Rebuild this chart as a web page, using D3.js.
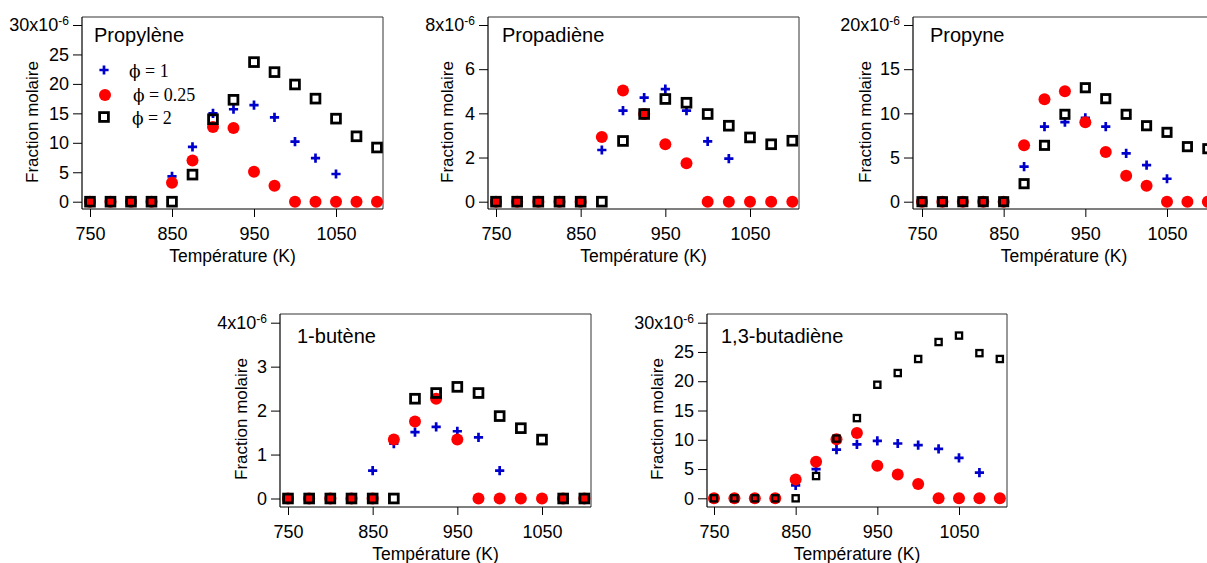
<!DOCTYPE html>
<html>
<head>
<meta charset="utf-8">
<script src="https://cdn.jsdelivr.net/npm/d3@7"></script>
<style>
  html, body { margin: 0; padding: 0; background: #fff; overflow: hidden; }
  svg { display: block; }
</style>
</head>
<body>
<svg id="chart" width="1207" height="563"></svg>
<script>
// ---------------- DATA ----------------
const temperatures = [750, 775, 800, 825, 850, 875, 900, 925, 950, 975, 1000, 1025, 1050, 1075, 1100];
const xTickValues = [750, 850, 950, 1050];
const seriesLabels = ["\u03D5 = 1", "\u03D5 = 0.25", "\u03D5 = 2"];

const propyleneTitle = "Propylène";
const propylenePhi1   = [0, 0, 0, 0, 4.3, 9.3, 15.0, 15.7, 16.4, 14.3, 10.2, 7.4, 4.7, 0, 0];
const propylenePhi025 = [0, 0, 0, 0, 3.2, 7.0, 12.7, 12.5, 5.1, 2.7, 0, 0, 0, 0, 0];
const propylenePhi2   = [0, 0, 0, 0, 0, 4.6, 14.0, 17.3, 23.7, 22.0, 19.9, 17.5, 14.1, 11.1, 9.2];
const propyleneYTicks = [0, 5, 10, 15, 20, 25, 30];

const propadieneTitle = "Propadiène";
const propadienePhi1   = [0, 0, 0, 0, 0, 2.34, 4.12, 4.71, 5.1, 4.12, 2.73, 1.95, 0, 0, 0];
const propadienePhi025 = [0, 0, 0, 0, 0, 2.93, 5.03, 3.97, 2.6, 1.74, 0, 0, 0, 0, 0];
const propadienePhi2   = [0, 0, 0, 0, 0, 0, 2.75, 3.97, 4.65, 4.48, 3.97, 3.44, 2.91, 2.6, 2.76];
const propadieneYTicks = [0, 2, 4, 6, 8];

const propyneTitle = "Propyne";
const propynePhi1   = [0, 0, 0, 0, 0, 3.96, 8.5, 9.0, 9.5, 8.5, 5.47, 4.15, 2.6, 0, 0];
const propynePhi025 = [0, 0, 0, 0, 0, 6.38, 11.6, 12.5, 8.98, 5.62, 2.94, 1.81, 0, 0, 0];
const propynePhi2   = [0, 0, 0, 0, 0, 2.04, 6.38, 9.89, 12.9, 11.66, 9.89, 8.6, 7.85, 6.23, 6.0];
const propyneYTicks = [0, 5, 10, 15, 20];

const buteneTitle = "1-butène";
const butenePhi1   = [0, 0, 0, 0, 0.635, 1.25, 1.51, 1.63, 1.53, 1.39, 0.635, 0, 0, 0, 0];
const butenePhi025 = [0, 0, 0, 0, 0, 1.34, 1.75, 2.27, 1.34, 0, 0, 0, 0, 0, 0];
const butenePhi2   = [0, 0, 0, 0, 0, 0, 2.27, 2.4, 2.54, 2.4, 1.875, 1.6, 1.34, 0, 0];
const buteneYTicks = [0, 1, 2, 3, 4];

const butadieneTitle = "1,3-butadiène";
const butadienePhi1   = [0, 0, 0, 0, 2.2, 5.0, 8.3, 9.2, 9.8, 9.36, 9.07, 8.45, 6.9, 4.37, 0];
const butadienePhi025 = [0, 0, 0, 0, 3.23, 6.24, 10.1, 11.17, 5.56, 4.08, 2.44, 0, 0, 0, 0];
const butadienePhi2   = [0, 0, 0, 0, 0, 3.8, 10.2, 13.7, 19.4, 21.4, 23.8, 26.7, 27.8, 24.8, 23.8];
const butadieneYTicks = [0, 5, 10, 15, 20, 25, 30];

// ---------------- LAYOUT (positions / styles) ----------------
const panels = [
  { title: propyleneTitle, s1: propylenePhi1, s025: propylenePhi025, s2: propylenePhi2, yTicks: propyleneYTicks,
    l: 82, t: 17, r: 383, b: 209, xr: [90, 336], yr: [201.7, 25], yLabX: 38, yLabY: 122, xLabY: 262, titleX: 94, titleY: 42, sq: 8.8, legend: true },
  { title: propadieneTitle, s1: propadienePhi1, s025: propadienePhi025, s2: propadienePhi2, yTicks: propadieneYTicks,
    l: 488, t: 17, r: 799, b: 209, xr: [496, 750], yr: [201.7, 25], yLabX: 453, yLabY: 122, xLabY: 262, titleX: 502, titleY: 42, sq: 8.8 },
  { title: propyneTitle, s1: propynePhi1, s025: propynePhi025, s2: propynePhi2, yTicks: propyneYTicks,
    l: 913, t: 17, r: 1215, b: 209, xr: [922, 1167], yr: [201.7, 25], yLabX: 871, yLabY: 122, xLabY: 262, titleX: 930, titleY: 42, sq: 8.3 },
  { title: buteneTitle, s1: butenePhi1, s025: butenePhi025, s2: butenePhi2, yTicks: buteneYTicks,
    l: 280, t: 314, r: 591, b: 507, xr: [288, 542], yr: [498.5, 322.7], yLabX: 247, yLabY: 419, xLabY: 560, titleX: 297, titleY: 343, sq: 8.8 },
  { title: butadieneTitle, s1: butadienePhi1, s025: butadienePhi025, s2: butadienePhi2, yTicks: butadieneYTicks,
    l: 707, t: 314, r: 1007, b: 507, xr: [714, 959], yr: [498.3, 322.7], yLabX: 663, yLabY: 419, xLabY: 560, titleX: 721, titleY: 343, sq: 6.2, sqW: 2.3 }
];

const BLUE = "#0000cc", RED = "#ff0000", BLACK = "#000";
const SANS = "Arial, 'Liberation Sans', Helvetica, sans-serif";
const SERIF = "'DejaVu Serif', 'Liberation Serif', serif";
const SERIF_NUM = "'Liberation Serif', 'Times New Roman', serif";

const svg = d3.select("#chart");

function crossPath(h) { return `M${-h},0H${h}M0,${-h}V${h}`; }

function drawMarkers(g, kind, pts, p) {
  if (kind === "cross") {
    g.selectAll(null).data(pts).join("path")
      .attr("transform", d => `translate(${d[0]},${d[1]})`)
      .attr("d", crossPath(4.6)).attr("stroke", BLUE).attr("stroke-width", 2.7).attr("fill", "none");
  } else if (kind === "circle") {
    g.selectAll(null).data(pts).join("circle")
      .attr("cx", d => d[0]).attr("cy", d => d[1]).attr("r", 6).attr("fill", RED);
  } else {
    const s = p.sq, w = p.sqW || 2.8;
    g.selectAll(null).data(pts).join("rect")
      .attr("x", d => d[0] - s / 2).attr("y", d => d[1] - s / 2)
      .attr("width", s).attr("height", s)
      .attr("fill", "none").attr("stroke", BLACK).attr("stroke-width", w);
  }
}

panels.forEach(p => {
  const x = d3.scaleLinear().domain([750, 1050]).range(p.xr);
  const yMax = p.yTicks[p.yTicks.length - 1];
  const y = d3.scaleLinear().domain([0, yMax]).range(p.yr);
  const g = svg.append("g");

  // frame (top / right)
  g.append("path")
    .attr("d", `M${p.l},${p.t}H${p.r}V${p.b}`)
    .attr("fill", "none").attr("stroke", "#333").attr("stroke-width", 1);

  // y axis
  const ya = g.append("g").attr("transform", `translate(${p.l},0)`)
    .call(d3.axisLeft(y).tickValues(p.yTicks).tickSize(9).tickSizeOuter(0).tickPadding(4).tickFormat(d3.format("d")));
  ya.select(".domain").remove();
  ya.selectAll("line").attr("stroke", BLACK);
  ya.selectAll("text").attr("font-family", SANS).attr("font-size", 18).attr("fill", "#000");
  ya.selectAll(".tick").filter(d => d === yMax).select("text").each(function(d) {
    const t = d3.select(this);
    t.text(null);
    t.append("tspan").text(d + "x10");
    t.append("tspan").attr("dy", "-0.5em").attr("font-size", 12).text("-6");
  });
  g.append("line").attr("x1", p.l).attr("x2", p.l).attr("y1", p.t).attr("y2", p.b)
    .attr("stroke", BLACK).attr("stroke-width", 1.2);

  // x axis
  const xa = g.append("g").attr("transform", `translate(0,${p.b})`)
    .call(d3.axisBottom(x).tickValues(xTickValues).tickSize(8).tickSizeOuter(0).tickPadding(10).tickFormat(d3.format("d")));
  xa.select(".domain").remove();
  xa.selectAll("line").attr("stroke", BLACK);
  xa.selectAll("text").attr("font-family", SANS).attr("font-size", 18).attr("fill", "#000");
  g.append("line").attr("x1", p.l).attr("x2", p.r).attr("y1", p.b).attr("y2", p.b)
    .attr("stroke", BLACK).attr("stroke-width", 1.2);

  // axis titles
  g.append("text").attr("transform", `translate(${p.yLabX},${p.yLabY}) rotate(-90)`)
    .attr("text-anchor", "middle").attr("font-family", SANS).attr("font-size", 17)
    .text("Fraction molaire");
  g.append("text").attr("x", (p.l + p.r) / 2).attr("y", p.xLabY)
    .attr("text-anchor", "middle").attr("font-family", SANS).attr("font-size", 17.5)
    .text("Température (K)");

  // panel title
  g.append("text").attr("x", p.titleX).attr("y", p.titleY)
    .attr("font-family", SANS).attr("font-size", 20).text(p.title);

  // markers: blue under red under black
  const toPts = arr => temperatures.map((t, i) => [x(t), y(arr[i])]);
  drawMarkers(g.append("g"), "cross", toPts(p.s1), p);
  drawMarkers(g.append("g"), "circle", toPts(p.s025), p);
  drawMarkers(g.append("g"), "square", toPts(p.s2), p);

  // legend
  if (p.legend) {
    const lg = g.append("g");
    const rows = [
      { kind: "cross", mx: 104, my: 70, tx: 129, ty: 77 },
      { kind: "circle", mx: 105, my: 95, tx: 133, ty: 101 },
      { kind: "square", mx: 104, my: 117, tx: 132, ty: 124 }
    ];
    rows.forEach((r, i) => {
      drawMarkers(lg.append("g"), r.kind, [[r.mx, r.my]], p);
      const parts = seriesLabels[i].split(" ");
      const txt = lg.append("text").attr("x", r.tx).attr("y", r.ty).attr("font-size", 18);
      txt.append("tspan").attr("font-family", SERIF).attr("font-size", 17).text(parts[0]);
      txt.append("tspan").attr("font-family", SERIF_NUM).text(" " + parts.slice(1).join(" "));
    });
  }
});
</script>
</body>
</html>
